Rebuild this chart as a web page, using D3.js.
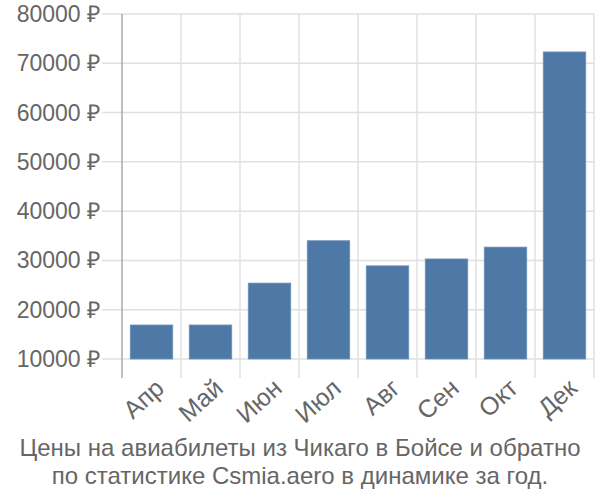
<!DOCTYPE html>
<html><head><meta charset="utf-8">
<script src="https://cdn.jsdelivr.net/npm/d3@7"></script>
<style>body{margin:0;background:#fff}svg{display:block}</style>
</head><body>
<svg id="c" width="600" height="500"></svg>
<script>
const months = ["Апр","Май","Июн","Июл","Авг","Сен","Окт","Дек"];
const prices = [16900,16900,25400,34000,28900,30300,32700,72300];
const yTicks = [10000,20000,30000,40000,50000,60000,70000,80000];
const titleLines = ["Цены на авиабилеты из Чикаго в Бойсе и обратно","по статистике Csmia.aero в динамике за год."];

const svg = d3.select("#c");
const L=122,R=594,T=14,B=359;
const x = d3.scaleBand().domain(months).range([L,R]).paddingInner(0.28).paddingOuter(0.14);
const xg = d3.scaleBand().domain(months).range([L,R]).padding(0);
const y = d3.scaleLinear().domain([10000,80000]).range([B,T]);
const font = "'Liberation Sans', Arial, sans-serif";

// horizontal grid
svg.append("g").selectAll("line").data(yTicks).join("line")
  .attr("x1",L-20).attr("x2",R).attr("y1",d=>y(d)).attr("y2",d=>y(d))
  .attr("stroke","#e0e0e0").attr("stroke-width",1.5);
// vertical grid
const vx = months.map(m=>xg(m)).concat([R]);
svg.append("g").selectAll("line").data(vx.slice(1)).join("line")
  .attr("x1",d=>d).attr("x2",d=>d).attr("y1",T).attr("y2",B+19)
  .attr("stroke","#e0e0e0").attr("stroke-width",1.5);
// left axis line
svg.append("line").attr("x1",L).attr("x2",L).attr("y1",T).attr("y2",B+19)
  .attr("stroke","#aaa").attr("stroke-width",1.5);

// bars
svg.append("g").selectAll("rect").data(prices).join("rect")
  .attr("x",(d,i)=>x(months[i])).attr("width",x.bandwidth())
  .attr("y",d=>y(d)).attr("height",d=>B-y(d))
  .attr("fill","#4e79a7").attr("stroke","#6d91bb").attr("stroke-width",0.8);

// y labels
svg.append("g").selectAll("text").data(yTicks).join("text")
  .attr("x",L-22).attr("y",d=>y(d)).attr("dy","0.35em")
  .attr("text-anchor","end").attr("font-family",font).attr("font-size",23)
  .attr("fill","#666").text(d=>d+" ₽");

// x labels
svg.append("g").selectAll("text").data(months).join("text")
  .attr("transform",d=>`translate(${xg(d)+xg.bandwidth()/2+2},${B+18}) rotate(-42)`)
  .attr("text-anchor","end").attr("dy","0.72em").attr("font-family",font).attr("font-size",25)
  .attr("fill","#666").text(d=>d);

// title
svg.append("g").selectAll("text").data(titleLines).join("text")
  .attr("x",300).attr("y",(d,i)=>456+i*28).attr("text-anchor","middle")
  .attr("font-family",font).attr("font-size",24).attr("fill","#666").text(d=>d);
</script>
</body></html>
